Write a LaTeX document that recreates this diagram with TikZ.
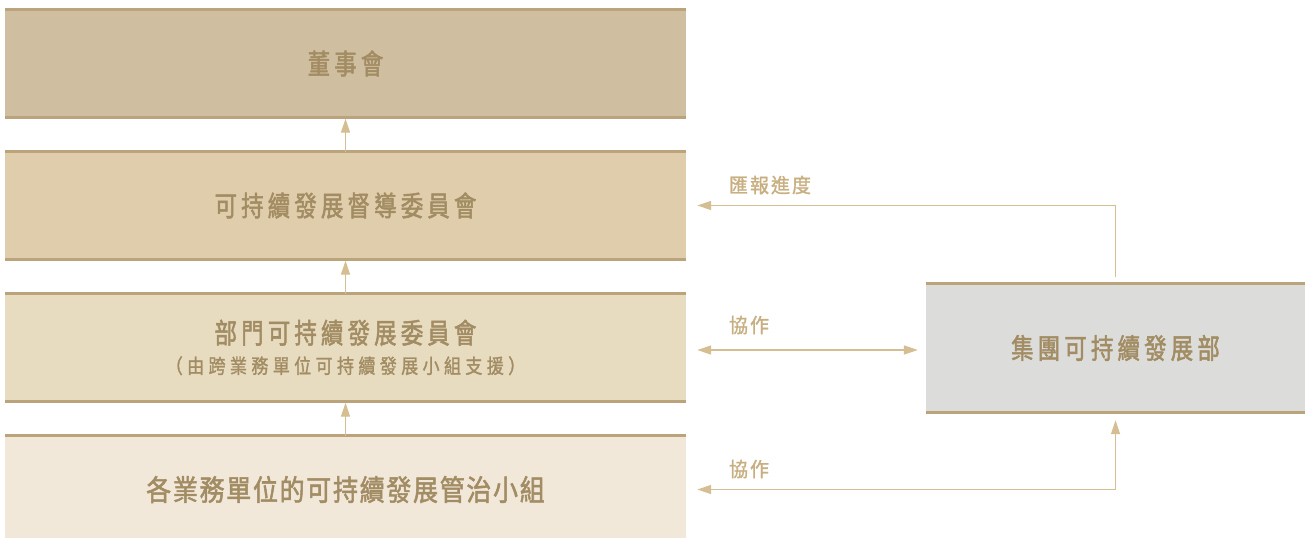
\documentclass[tikz,border=0pt]{standalone}
\usepackage{fontspec}
\setmainfont{Noto Sans CJK TC}
\newfontfamily\cjkmain[FakeStretch=0.8,FakeBold=1.8,LetterSpace=15]{Noto Sans CJK TC}
\newfontfamily\cjkbig[FakeStretch=0.86,FakeBold=1.8,LetterSpace=6]{Noto Sans CJK TC}
\newfontfamily\cjksub[FakeStretch=0.85,FakeBold=1.4,LetterSpace=22]{Noto Sans CJK TC}
\newfontfamily\cjklab[FakeStretch=0.95,FakeBold=1.4,LetterSpace=10]{Noto Sans CJK TC}
\usetikzlibrary{arrows.meta}
\definecolor{fillA}{HTML}{CFBE9F}
\definecolor{fillB}{HTML}{DFCDAB}
\definecolor{fillC}{HTML}{E8DCC0}
\definecolor{fillD}{HTML}{F1E8DA}
\definecolor{fillG}{HTML}{DCDDDB}
\definecolor{rule}{HTML}{BBA47C}
\definecolor{boxtext}{HTML}{A28C63}
\definecolor{arrowc}{HTML}{D4BE92}
\definecolor{labtext}{HTML}{C8AF82}
\begin{document}
\begin{tikzpicture}[x=1bp,y=-1bp,
  level/.style={rectangle,inner sep=0pt,minimum width=681bp,minimum height=107bp,text=boxtext,font=\cjkmain\fontsize{28bp}{32bp}\selectfont,align=center},
  rulel/.style={draw=rule,line width=3bp},
  conn/.style={draw=arrowc,line width=1.2bp,arrows={-Triangle[width=9bp,length=14bp]}},
  dconn/.style={draw=arrowc,line width=1.2bp,arrows={Triangle[width=9bp,length=14bp]-Triangle[width=9bp,length=14bp]}},
  lab/.style={text=labtext,font=\cjklab\fontsize{20bp}{23bp}\selectfont,inner sep=0pt}]
\useasboundingbox (0,0) rectangle (1305,538);
\node[level,fill=fillA] (b1) at (345.5,63.5) {董事會};
\node[level,fill=fillB] (b2) at (345.5,205.5) {可持續發展督導委員會};
\node[level,fill=fillC] (b3) at (345.5,347.5) {部門可持續發展委員會\\[-2bp]{\cjksub\fontsize{20bp}{23bp}\selectfont（由跨業務單位可持續發展小組支援）}};
\node[level,fill=fillD,font=\cjkbig\fontsize{29bp}{33bp}\selectfont] (b4) at (345.5,489.5) {各業務單位的可持續發展管治小組};
\node[rectangle,inner sep=0pt,minimum width=379bp,minimum height=128bp,fill=fillG,text=boxtext,font=\cjkmain\fontsize{28bp}{32bp}\selectfont] (g) at (1115.5,348) {集團可持續發展部};
\foreach \b in {b1,b2,b3}{
  \draw[rulel] (\b.north west) -- (\b.north east);
  \draw[rulel] (\b.south west) -- (\b.south east);
}
\draw[rulel] (b4.north west) -- (b4.north east);
\draw[rulel] (g.north west) -- (g.north east);
\draw[rulel] (g.south west) -- (g.south east);
\draw[conn] (b2.north) -- ([yshift=-1.5bp]b1.south);
\draw[conn] (b3.north) -- ([yshift=-1.5bp]b2.south);
\draw[conn] (b4.north) -- ([yshift=-1.5bp]b3.south);
\draw[conn] ([yshift=7bp]g.north) |- ([xshift=11bp]b2.east);
\draw[dconn] ([xshift=11bp,yshift=-2.5bp]b3.east) -- ([xshift=-8bp,yshift=-2.5bp]g.west |- b3.east);
\draw[dconn] ([xshift=11bp]b4.east) -| ([yshift=-8bp]g.south);
\node[lab] (l1) at (770,185) {匯報進度};
\node[lab] (l2) at (749,325) {協作};
\node[lab] (l3) at (749,469) {協作};
\end{tikzpicture}
\end{document}
